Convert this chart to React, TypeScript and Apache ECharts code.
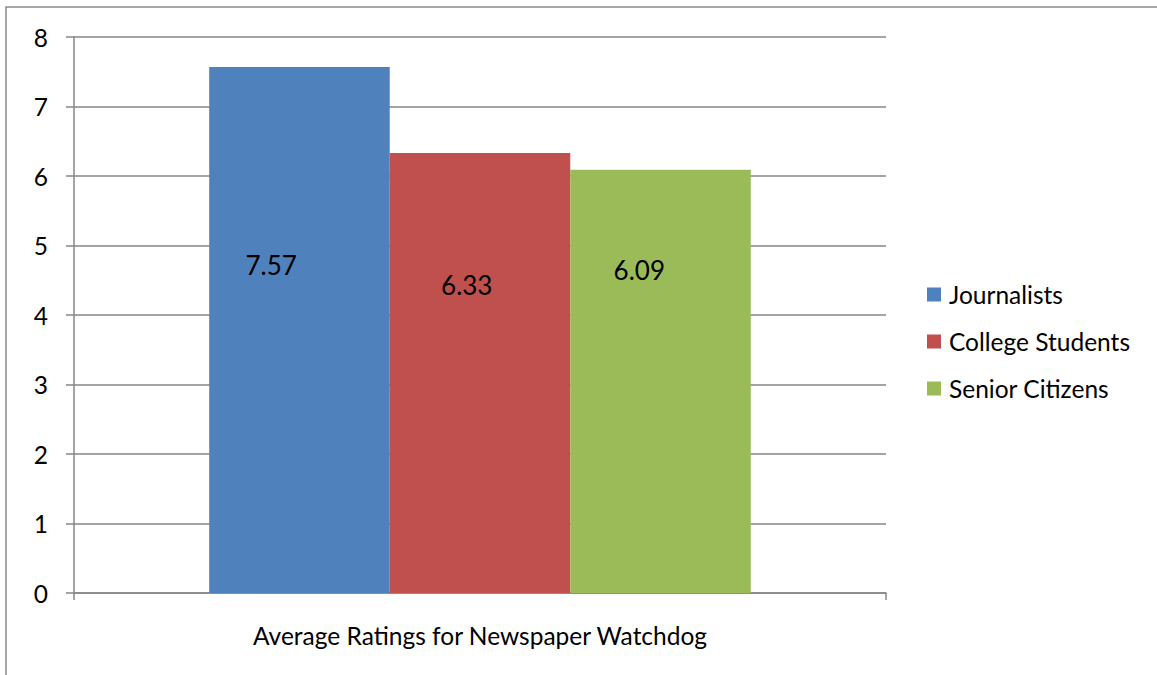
import React, { useEffect, useRef } from "react";
import * as echarts from "echarts";

const categories = ["Average Ratings for Newspaper Watchdog"];
const seriesNames = ["Journalists", "College Students", "Senior Citizens"];
const journalists = [7.57];
const collegeStudents = [6.33];
const seniorCitizens = [6.09];
const yTicks = { min: 0, max: 8, interval: 1 };

const colors = ["#4F81BD", "#C0504D", "#9BBB59"];
const labelPos: [number, number][] = [
  [62, 198],
  [77, 132],
  [69, 100],
];

const FONT = "Lato, 'Open Sans', sans-serif";

export default function App() {
  const ref = useRef<HTMLDivElement>(null);
  useEffect(() => {
    if (!ref.current) return;
    const chart = echarts.init(ref.current, null, { renderer: "svg" });
    const values = [journalists, collegeStudents, seniorCitizens];
    chart.setOption({
      animation: false,
      backgroundColor: "#ffffff",
      textStyle: { fontFamily: FONT },
      graphic: [
        {
          type: "rect",
          shape: { x: 6, y: 7, width: 1300, height: 800 },
          style: { fill: "none", stroke: "#8a8a8a", lineWidth: 1.5 },
          silent: true,
        },
      ],
      grid: { left: 74, top: 37, right: 271, bottom: 82 },
      legend: {
        orient: "vertical",
        left: 927,
        top: 282,
        padding: 0,
        icon: "rect",
        itemWidth: 14,
        itemHeight: 14,
        itemGap: 22,
        textStyle: {
          fontFamily: FONT,
          fontSize: 24.5,
          color: "#000",
          padding: [0, 0, 0, 3],
        },
        data: seriesNames,
      },
      xAxis: {
        type: "category",
        data: categories,
        axisLine: { lineStyle: { color: "#868686", width: 1.5 } },
        axisTick: { show: true, length: 7, lineStyle: { color: "#868686", width: 1.5 } },
        axisLabel: { fontFamily: FONT, fontSize: 24.5, color: "#000", margin: 30 },
      },
      yAxis: {
        type: "value",
        min: yTicks.min,
        max: yTicks.max,
        interval: yTicks.interval,
        axisLine: { show: true, lineStyle: { color: "#868686", width: 1.5 } },
        axisTick: { show: true, length: 8, lineStyle: { color: "#868686", width: 1.5 } },
        axisLabel: { fontFamily: FONT, fontSize: 24.5, color: "#000", margin: 26 },
        splitLine: { lineStyle: { color: "#868686", width: 1.5 } },
      },
      series: seriesNames.map((name, i) => ({
        name,
        type: "bar",
        data: values[i],
        barGap: "0%",
        barCategoryGap: "33.3%",
        itemStyle: { color: colors[i] },
        label: {
          show: true,
          position: labelPos[i],
          align: "center",
          verticalAlign: "middle",
          fontFamily: FONT,
          fontSize: 26,
          color: "#000",
          formatter: (p: any) => p.value.toFixed(2),
        },
      })),
    });
    return () => chart.dispose();
  }, []);
  return (
    <div
      ref={ref}
      style={{ position: "fixed", left: 0, top: 0, width: 1157, height: 675 }}
    />
  );
}
